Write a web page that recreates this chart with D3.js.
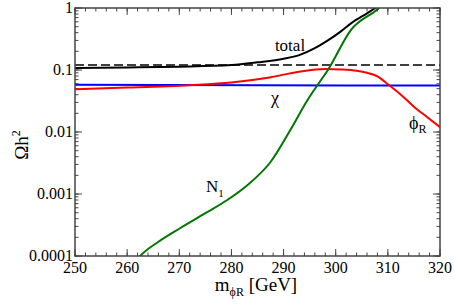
<!DOCTYPE html>
<html>
<head>
<meta charset="utf-8">
<script src="https://cdn.jsdelivr.net/npm/d3@7"></script>
<style>
  body { margin: 0; background: #fff; }
  svg { display: block; }
</style>
</head>
<body>
<div id="chart"></div>
<script>
// Relic density vs m_phiR
const totalM = [250, 260, 270, 280, 285, 290, 293, 296, 298.5, 301, 303, 306, 308, 310];
const totalV = [0.108, 0.110, 0.113, 0.120, 0.133, 0.152, 0.174, 0.225, 0.30, 0.42, 0.57, 0.82, 1.05, 1.3];

const phiM = [250, 260, 272, 280, 287, 293, 298, 301, 304, 306, 308, 310, 312.5, 315, 317.5, 320];
const phiV = [0.049, 0.052, 0.057, 0.063, 0.075, 0.094, 0.104, 0.102, 0.097, 0.090, 0.079, 0.059, 0.040, 0.0256, 0.0175, 0.012];

const chiM = [250, 285, 320];
const chiV = [0.058, 0.057, 0.056];

const n1M = [261.5, 262.5, 266, 270.2, 275, 279.2, 283.1, 287.5, 291.3, 294.6, 296.5, 298.5, 302.9, 308.3, 310];
const n1V = [0.00008, 0.0001, 0.00017, 0.000283, 0.00049, 0.0008, 0.0014, 0.00328, 0.0108, 0.0328, 0.057, 0.10, 0.44, 1.0, 1.4];

const planck = 0.12;

const xTicks = [250, 260, 270, 280, 290, 300, 310, 320];
const yTicks = [1, 0.1, 0.01, 0.001, 0.0001];
const yTickLabels = ['1', '0.1', '0.01', '0.001', '0.0001'];

const width = 454, height = 304;
const margin = { top: 8, right: 14, bottom: 48, left: 75 };
const innerWidth = width - margin.left - margin.right;
const innerHeight = height - margin.top - margin.bottom;
const serif = 'Liberation Serif';

const svg = d3.select('#chart').append('svg')
    .attr('width', width)
    .attr('height', height);

const g = svg.append('g')
    .attr('transform', `translate(${margin.left},${margin.top})`);

const x = d3.scaleLinear().domain([250, 320]).range([0, innerWidth]);
const y = d3.scaleLog().domain([0.0001, 1]).range([innerHeight, 0]);

g.append('clipPath').attr('id', 'clip')
    .append('rect').attr('width', innerWidth).attr('height', innerHeight);

// minor ticks
const xMinor = d3.range(250, 320.01, 2);
const yMinor = [];
[0.0001, 0.001, 0.01, 0.1].forEach(d => {
    for (let k = 1; k < 10; k++) yMinor.push(d * k);
});
yMinor.push(1);

const tickColor = '#444';
function drawTicks(vals, isMajor) {
    const len = isMajor ? 7 : 3.5;
    vals.forEach(v => {
        const px = x(v);
        g.append('line').attr('x1', px).attr('x2', px).attr('y1', innerHeight).attr('y2', innerHeight - len)
            .attr('stroke', tickColor).attr('stroke-width', 1);
        g.append('line').attr('x1', px).attr('x2', px).attr('y1', 0).attr('y2', len)
            .attr('stroke', tickColor).attr('stroke-width', 1);
    });
}
drawTicks(xMinor, false);
drawTicks(xTicks, true);

function drawYTicks(vals, isMajor) {
    const len = isMajor ? 7 : 3.5;
    vals.forEach(v => {
        const py = y(v);
        g.append('line').attr('x1', 0).attr('x2', len).attr('y1', py).attr('y2', py)
            .attr('stroke', tickColor).attr('stroke-width', 1);
        g.append('line').attr('x1', innerWidth).attr('x2', innerWidth - len).attr('y1', py).attr('y2', py)
            .attr('stroke', tickColor).attr('stroke-width', 1);
    });
}
drawYTicks(yMinor, false);
drawYTicks(yTicks, true);

// tick labels
g.selectAll('.xlab').data(xTicks).enter().append('text')
    .attr('x', d => x(d))
    .attr('y', innerHeight + 17)
    .attr('text-anchor', 'middle')
    .style('font-family', serif)
    .style('font-size', '16px')
    .text(d => d);

g.selectAll('.ylab').data(yTicks).enter().append('text')
    .attr('x', -2)
    .attr('y', d => y(d) + 5)
    .attr('text-anchor', 'end')
    .style('font-family', serif)
    .style('font-size', '16px')
    .text((d, i) => yTickLabels[i]);

// curves
const line = d3.line()
    .x(d => x(d[0]))
    .y(d => y(d[1]))
    .curve(d3.curveMonotoneX);

const plot = g.append('g').attr('clip-path', 'url(#clip)');

plot.append('line')
    .attr('x1', 0).attr('x2', innerWidth)
    .attr('y1', y(planck)).attr('y2', y(planck))
    .attr('stroke', '#000').attr('stroke-width', 1.5)
    .attr('stroke-dasharray', '9,4');

const series = [
    { m: chiM, v: chiV, color: '#0000ff' },
    { m: phiM, v: phiV, color: '#ff0000' },
    { m: n1M, v: n1V, color: '#007700' },
    { m: totalM, v: totalV, color: '#000000' }
];
series.forEach(s => {
    plot.append('path')
        .datum(s.m.map((d, i) => [d, s.v[i]]))
        .attr('fill', 'none')
        .attr('stroke', s.color)
        .attr('stroke-width', 2)
        .attr('d', line);
});

// frame
g.append('rect')
    .attr('width', innerWidth).attr('height', innerHeight)
    .attr('fill', 'none').attr('stroke', tickColor).attr('stroke-width', 1.5);

// curve labels
function label(px, py, size) {
    return svg.append('text').attr('x', px).attr('y', py)
        .style('font-family', serif).style('font-size', size + 'px');
}
label(290, 51, 17).attr('text-anchor', 'middle').text('total');
label(275, 104, 18).attr('text-anchor', 'middle').text('χ');
const phiLab = label(409, 129, 18);
phiLab.append('tspan').text('ϕ');
phiLab.append('tspan').attr('dy', 4).style('font-size', '12px').text('R');
const nLab = label(206, 192, 17);
nLab.append('tspan').text('N');
nLab.append('tspan').attr('dy', 5).style('font-size', '11px').text('1');

// axis titles
const xt = label(256, 291, 19).attr('text-anchor', 'middle');
xt.append('tspan').text('m');
xt.append('tspan').attr('dy', 5).style('font-size', '12px').text('ϕR');
xt.append('tspan').attr('dy', -5).text(' [GeV]');

const yt = label(0, 0, 19)
    .attr('transform', 'translate(28,145) rotate(-90)')
    .attr('text-anchor', 'middle');
yt.append('tspan').text('Ωh');
yt.append('tspan').attr('dy', -8).style('font-size', '12px').text('2');
</script>
</body>
</html>
